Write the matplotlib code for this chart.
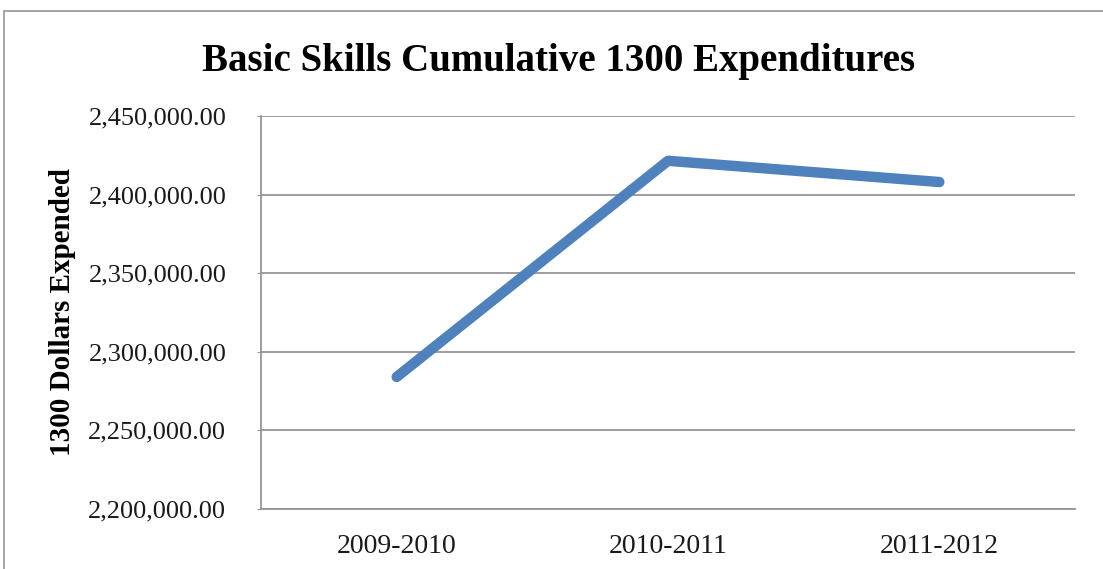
import matplotlib.pyplot as plt
from matplotlib.patches import Rectangle
from matplotlib.ticker import FuncFormatter

years = ["2009-2010", "2010-2011", "2011-2012"]
expended = [2284000, 2421500, 2408000]

title = "Basic Skills Cumulative 1300 Expenditures"
ylabel = "1300 Dollars Expended"

W, H = 1103, 569
fig = plt.figure(figsize=(W / 100, H / 100), dpi=100)
plt.rcParams['font.family'] = ['Liberation Serif', 'DejaVu Serif']

# plot area in pixel coordinates
left, right, top, bottom = 261, 1075, 116, 509
ax = fig.add_axes([left / W, 1 - bottom / H, (right - left) / W, (bottom - top) / H])

x = range(len(years))
ax.plot(x, expended, color="#4f81bd", linewidth=7.5,
        solid_capstyle="round", solid_joinstyle="round", zorder=3)

ax.set_xlim(-0.5, 2.5)
ax.set_ylim(2200000, 2450000)
ax.set_yticks(range(2200000, 2450001, 50000))
ax.yaxis.set_major_formatter(FuncFormatter(lambda v, p: f"{v:,.2f}"))
ax.set_xticks(list(x))
ax.set_xticklabels(years)

grey = "#959595"
ax.grid(axis="y", color=grey, linewidth=1.3)
ax.set_axisbelow(True)
for side in ["top", "right"]:
    ax.spines[side].set_visible(False)
for side in ["left", "bottom"]:
    ax.spines[side].set_color(grey)
    ax.spines[side].set_linewidth(1.3)

ax.tick_params(axis="y", length=3, color=grey, labelsize=19, pad=22, labelcolor="#1a1a1a")
ax.tick_params(axis="x", length=0, labelsize=20, pad=18, labelcolor="#1a1a1a")

# label anchor is the baseline side of the rotated text
ax.set_ylabel(ylabel, fontsize=21, fontweight="bold")
ax.yaxis.set_label_coords((76 - left) / (right - left), 0.5)
fig.text(559 / W, 1 - 62 / H, title, ha="center", va="center",
         fontsize=28, fontweight="bold")

# outer chart frame
fig.add_artist(Rectangle((4 / W, -0.1), 1.2, 1 - 11 / H + 0.1,
                         transform=fig.transFigure, fill=False,
                         edgecolor=grey, linewidth=1.2))

fig.savefig("out.png", dpi=100)
